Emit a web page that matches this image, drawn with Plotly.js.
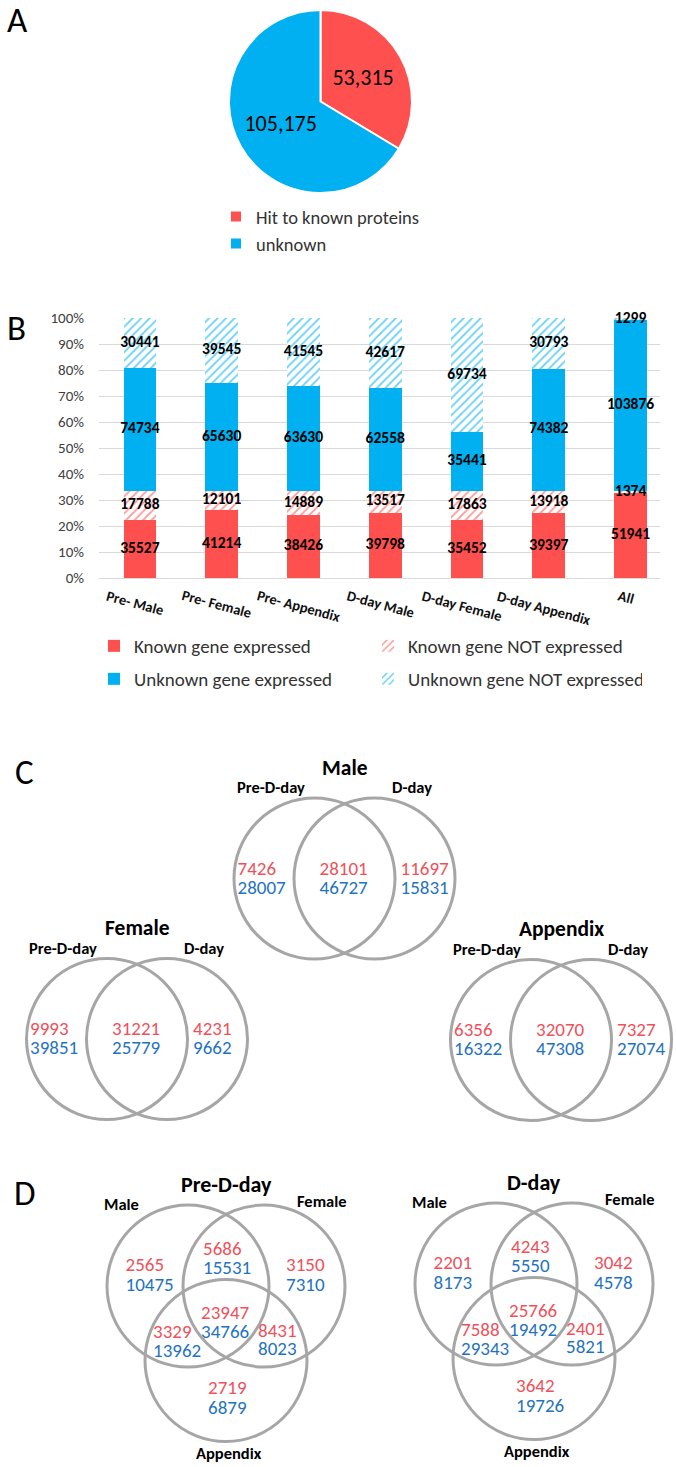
<!DOCTYPE html>
<html>
<head>
<meta charset="utf-8">
<script src="https://cdn.plot.ly/plotly-3.0.1.min.js"></script>
<style>
  html, body { margin: 0; padding: 0; background: #fff; }
  #fig { width: 676px; height: 1467px; }
</style>
</head>
<body>
<div id="fig"></div>
<script>
// ---------- dane ----------

// A: transkrypty z trafieniem do znanych białek vs nieznane
const pieLabels = ['Hit to known proteins', 'unknown'];
const pieValues = [53315, 105175];

// B: udział genów wyrażonych / niewyrażonych w każdej próbce
const categories = ['Pre- Male', 'Pre- Female', 'Pre- Appendix', 'D-day Male', 'D-day Female', 'D-day Appendix', 'All'];
const knownExpressed = [35527, 41214, 38426, 39798, 35452, 39397, 51941];
const knownNotExpressed = [17788, 12101, 14889, 13517, 17863, 13918, 1374];
const unknownExpressed = [74734, 65630, 63630, 62558, 35441, 74382, 103876];
const unknownNotExpressed = [30441, 39545, 41545, 42617, 69734, 30793, 1299];
const seriesNames = ['Known gene expressed', 'Known gene NOT expressed', 'Unknown gene expressed', 'Unknown gene NOT expressed'];

// C: Pre-D-day vs D-day (obszary: tylko Pre, wspólne, tylko D-day)
const venn2Titles = ['Male', 'Female', 'Appendix'];
const venn2Sets = ['Pre-D-day', 'D-day'];
const venn2Known = [[7426, 28101, 11697], [9993, 31221, 4231], [6356, 32070, 7327]];
const venn2Unknown = [[28007, 46727, 15831], [39851, 25779, 9662], [16322, 47308, 27074]];

// D: Male / Female / Appendix
// obszary: M, M∩F, F, M∩F∩A, M∩A, F∩A, A
const venn3Titles = ['Pre-D-day', 'D-day'];
const venn3Sets = ['Male', 'Female', 'Appendix'];
const venn3Known = [[2565, 5686, 3150, 23947, 3329, 8431, 2719], [2201, 4243, 3042, 25766, 7588, 2401, 3642]];
const venn3Unknown = [[10475, 15531, 7310, 34766, 13962, 8023, 6879], [8173, 5550, 4578, 19492, 29343, 5821, 19726]];

// ---------- wygląd ----------

const W = 676, H = 1467;
const RED = '#ff5050', BLUE = '#00b0f0';
const NUM_RED = '#f0505a', NUM_BLUE = '#1f72c0', RING = '#a6a6a6';
const FONT = 'Carlito, Lato, sans-serif';
const px = x => x / W;
const py = y => 1 - y / H;

// geometria diagramów Venna (piksele strony)
const v2 = {
  centers: [[344.5, 878.5], [137, 1039], [561, 1040]],
  half: 30, r: 80.5,
  numX: [-107, -25, 56], knownDy: -8.5, unknownDy: 10.5,
  titleDy: -111, setPos: [[-74, -91.5], [67, -91.5]],
};
const v3 = {
  centers: [[226, 1286], [534, 1284]],
  circles: [[-38, 0], [38, 0], [0, 74.5]], r: 81,
  // [x lewej krawędzi, y wiersza czerwonego, y wiersza niebieskiego]
  numPos: [[-100.5, -19.5, 0.5], [-23, -35.5, -16.5], [60, -19.5, 0.5], [-25, 28.5, 47.5], [-73, 47.5, 66.5], [32, 46.5, 64.5], [-18, 103.5, 123.5]],
  titleDy: -102, setPos: [[-105, -82], [96, -85], [3, 167]],
};

const traces = [];
const annotations = [];
const shapes = [];

// A: wykres kołowy
traces.push({
  type: 'pie', labels: pieLabels, values: pieValues,
  sort: false, direction: 'clockwise', rotation: 0,
  marker: { colors: [RED, BLUE], line: { color: '#fff', width: 2 } },
  texttemplate: '%{value:,}', textposition: 'inside', insidetextorientation: 'horizontal',
  textfont: { size: 22, color: '#000' },
  domain: { x: [px(229), px(412)], y: [py(194), py(9)] },
  legend: 'legend2', hoverinfo: 'skip',
});

// B: słupki 100%
const seriesValues = [knownExpressed, knownNotExpressed, unknownExpressed, unknownNotExpressed];
const hatch = c => ({ shape: '/', fgcolor: c, bgcolor: '#fff', fgopacity: 0.6, size: 6, solidity: 0.3 });
const seriesMarker = [
  { color: RED },
  { color: '#fff', pattern: hatch(RED) },
  { color: BLUE },
  { color: '#fff', pattern: hatch(BLUE) },
];
seriesValues.forEach((vals, i) => {
  traces.push({
    type: 'bar', x: categories, y: vals, name: seriesNames[i],
    marker: Object.assign({ line: { width: 0 } }, seriesMarker[i]),
    width: 0.4,
    legend: i < 2 ? 'legend' : 'legend3', hoverinfo: 'skip',
  });
});
// etykiety wartości na środku każdego segmentu (nad słupkami)
const totals = categories.map((_, j) => seriesValues.reduce((s, v) => s + v[j], 0));
let cum = categories.map(() => 0);
seriesValues.forEach(vals => {
  const mids = vals.map((v, j) => (cum[j] + v / 2) / totals[j] * 100);
  cum = cum.map((c, j) => c + vals[j]);
  traces.push({
    type: 'scatter', mode: 'text', x: categories, y: mids, text: vals.map(String),
    textposition: 'middle center', textfont: { size: 15.5, color: '#000', weight: 'bold' },
    showlegend: false, hoverinfo: 'skip', cliponaxis: false,
  });
});
categories.forEach(c => annotations.push({
  text: c, xref: 'x', yref: 'y', x: c, y: 0, xanchor: 'center', yanchor: 'top',
  textangle: 15, yshift: -6, xshift: -5, showarrow: false,
  font: { size: 14.5, color: '#111', weight: 'bold' },
}));

// litery paneli
[['A', 17, 20], ['B', 16, 328], ['C', 24, 772], ['D', 25, 1193]].forEach(([t, x, y]) => annotations.push({
  text: t, xref: 'paper', yref: 'paper', x: px(x), y: py(y), showarrow: false,
  xanchor: 'center', yanchor: 'middle', font: { size: 35, color: '#000' },
}));

const vennText = (xs, ys, vals, color) => ({
  type: 'scatter', mode: 'text', x: xs, y: ys, text: vals.map(String),
  textposition: 'middle right', textfont: { size: 19, color },
  xaxis: 'x2', yaxis: 'y2', showlegend: false, hoverinfo: 'skip', cliponaxis: false,
});
const ring = (cx, cy, r) => ({
  type: 'circle', xref: 'x2', yref: 'y2', x0: cx - r, x1: cx + r, y0: cy - r, y1: cy + r,
  line: { color: RING, width: 3 },
});
const label = (t, x, y, size) => ({
  text: t, xref: 'x2', yref: 'y2', x, y, showarrow: false, xanchor: 'center', yanchor: 'middle',
  font: { size, color: '#000', weight: 'bold' },
});

// C: Venny dwuzbiorowe
v2.centers.forEach(([cx, cy], i) => {
  shapes.push(ring(cx - v2.half, cy, v2.r), ring(cx + v2.half, cy, v2.r));
  const xs = v2.numX.map(d => cx + d);
  traces.push(vennText(xs, xs.map(() => cy + v2.knownDy), venn2Known[i], NUM_RED));
  traces.push(vennText(xs, xs.map(() => cy + v2.unknownDy), venn2Unknown[i], NUM_BLUE));
  annotations.push(label(venn2Titles[i], cx, cy + v2.titleDy, 21.5));
  venn2Sets.forEach((s, k) => annotations.push(label(s, cx + v2.setPos[k][0], cy + v2.setPos[k][1], 16.5)));
});

// D: Venny trzyzbiorowe
v3.centers.forEach(([cx, cy], i) => {
  v3.circles.forEach(([dx, dy]) => shapes.push(ring(cx + dx, cy + dy, v3.r)));
  const xs = v3.numPos.map(p => cx + p[0]);
  traces.push(vennText(xs, v3.numPos.map(p => cy + p[1]), venn3Known[i], NUM_RED));
  traces.push(vennText(xs, v3.numPos.map(p => cy + p[2]), venn3Unknown[i], NUM_BLUE));
  annotations.push(label(venn3Titles[i], cx, cy + v3.titleDy, 22));
  venn3Sets.forEach((s, k) => annotations.push(label(s, cx + v3.setPos[k][0], cy + v3.setPos[k][1], 16.5)));
});

const legendBase = {
  orientation: 'h', entrywidth: 229, entrywidthmode: 'pixels', traceorder: 'normal',
  xanchor: 'left', yanchor: 'top', bgcolor: 'rgba(0,0,0,0)',
  font: { size: 19, color: '#333' },
};

const layout = {
  width: W, height: H, margin: { l: 0, r: 0, t: 0, b: 0 },
  paper_bgcolor: '#fff', plot_bgcolor: '#fff',
  font: { family: FONT, color: '#000' },
  barmode: 'stack', barnorm: 'percent',
  xaxis: {
    domain: [px(99), px(660)], range: [-0.5, 6.36], type: 'category',
    showticklabels: false, ticks: '', showgrid: false, zeroline: false, showline: false, fixedrange: true,
  },
  yaxis: {
    domain: [py(578), py(318)], range: [0, 100], dtick: 10, ticksuffix: '%',
    showgrid: true, gridcolor: '#d9d9d9', gridwidth: 1,
    zeroline: true, zerolinecolor: '#d9d9d9', zerolinewidth: 1,
    tickfont: { size: 15, color: '#404040' }, ticks: '', ticklabelstandoff: 14, fixedrange: true,
  },
  xaxis2: { domain: [0, 1], range: [0, W], visible: false, fixedrange: true },
  yaxis2: { domain: [0, 1 - 690 / H], range: [H, 690], visible: false, fixedrange: true },
  legend: Object.assign({}, legendBase, { x: px(94), y: py(627) }),
  legend3: Object.assign({}, legendBase, { x: px(94), y: py(660) }),
  legend2: {
    orientation: 'v', x: px(216), y: py(198), xanchor: 'left', yanchor: 'top',
    bgcolor: 'rgba(0,0,0,0)', font: { size: 18.5, color: '#333' },
  },
  annotations, shapes,
};

Plotly.newPlot('fig', traces, layout, { staticPlot: true, displayModeBar: false });
</script>
</body>
</html>
